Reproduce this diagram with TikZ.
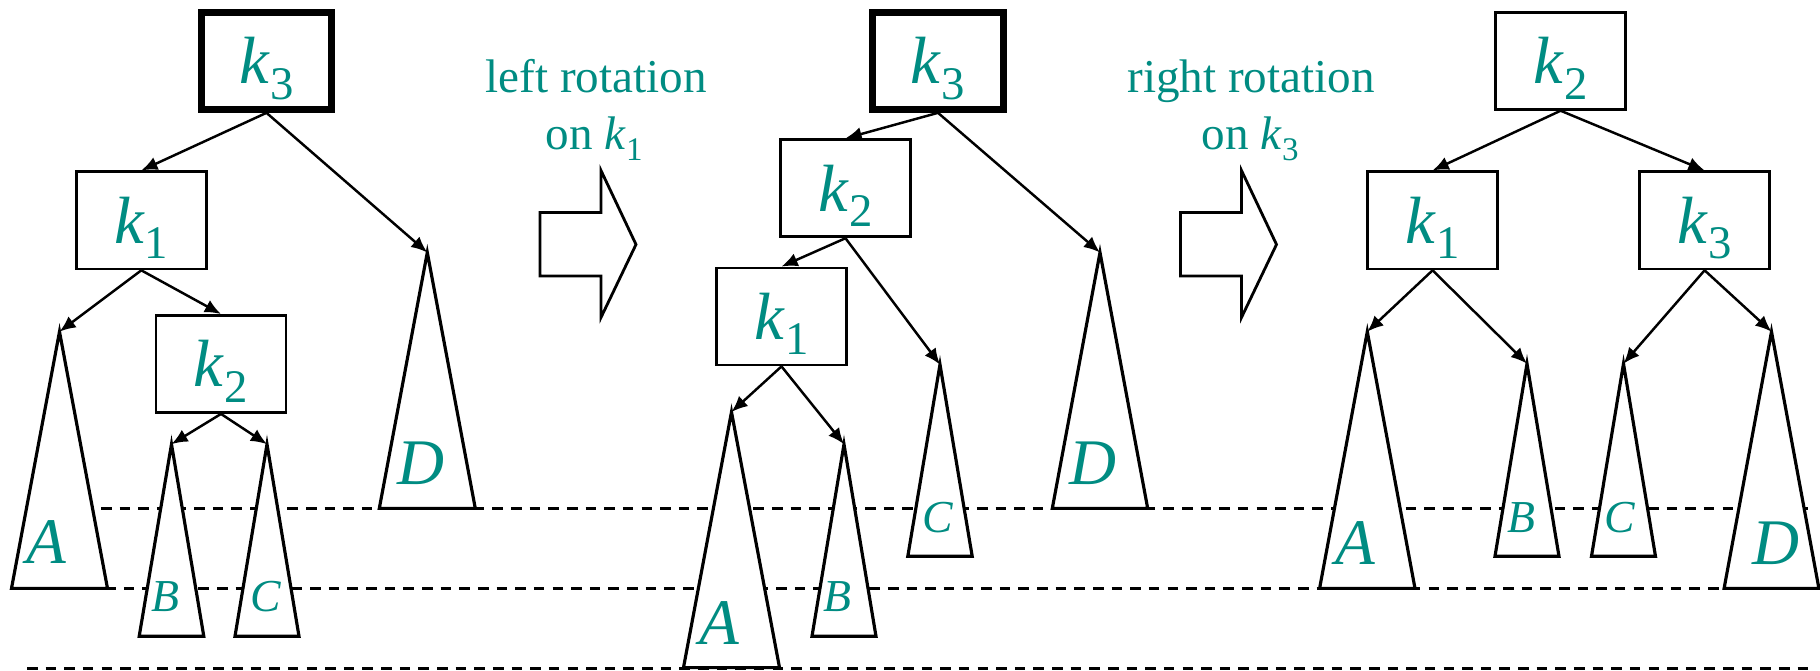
\documentclass[tikz,border=0pt]{standalone}
\usepackage{fontspec}
\setmainfont{Liberation Serif}
\usepackage{graphicx}
\usetikzlibrary{arrows.meta}
\definecolor{keyteal}{RGB}{0,140,130}
\newcommand{\kkey}[1]{\textit{k}\raisebox{-0.23em}{\scalebox{0.7}{#1}}}
% name, apex x, apex y, half base, base y
\newcommand{\subtree}[5]{%
  \coordinate (#1) at (#2,#3);
  \draw[subtri] (#1) -- ({#2-#4},#5) -- ({#2+#4},#5) -- cycle;}
\tikzset{
  keybox/.style={draw, line width=0.8pt, minimum width=1.3cm, minimum height=0.97cm,
    inner sep=0pt, text height=13pt, text depth=0pt, text=keyteal,
    font=\fontsize{19pt}{19pt}\selectfont},
  rootbox/.style={keybox, line width=2pt},
  subtri/.style={draw, fill=white, line width=0.9pt, line join=miter},
  treeedge/.style={-{Latex[length=4.6pt,width=3.9pt]}, line width=0.7pt},
  levelline/.style={dash pattern=on 3pt off 2.3pt, line width=0.85pt},
  biglabel/.style={text=keyteal, inner sep=0pt, font=\fontsize{18.5pt}{18.5pt}\selectfont\itshape},
  smalllabel/.style={text=keyteal, inner sep=0pt, font=\fontsize{13pt}{13pt}\selectfont\itshape},
  rotlabel/.style={text=keyteal, anchor=base, inner sep=0pt, font=\fontsize{13.4pt}{13.4pt}\selectfont},
  bigarrow/.style={draw, line width=0.8pt, line join=miter}
}
\begin{document}
\begin{tikzpicture}[x=0.01cm, y=-0.01cm]
  \useasboundingbox (0,0) rectangle (1820,671);
  % levels
  \draw[levelline] (101,508.4) -- (1813,508.4);
  \draw[levelline] (12,588.4) -- (1818,588.4);
  \draw[levelline] (27,668.3) -- (1813,668.3);

  % before
  \node[rootbox] (k3a) at (266.5,60.8) {\kkey{3}};
  \node[keybox] (k1a) at (141.3,220.4) {\kkey{1}};
  \node[keybox] (k2a) at (221,364) {\kkey{2}};
  \subtree{A1}{59.5}{331.7}{48}{588.4}
  \subtree{B1}{171.5}{444.2}{32.3}{636.3}
  \subtree{C1}{267}{444.2}{32}{636.3}
  \subtree{D1}{427.3}{252.5}{48}{508.4}
  \node[biglabel] (labA1) at (46.7,542.5) {A};
  \node[smalllabel] (labB1) at (165,597) {B};
  \node[smalllabel] (labC1) at (265.6,597) {C};
  \node[biglabel] (labD1) at (421,463.5) {D};
  \draw[treeedge] (k3a.south) -- (k1a.north);
  \draw[treeedge] (k3a.south) -- (D1);
  \draw[treeedge] (k1a.south) -- (A1);
  \draw[treeedge] (k1a.south) -- (k2a.north);
  \draw[treeedge] (k2a.south) -- (B1);
  \draw[treeedge] (k2a.south) -- (C1);

  \node[rotlabel] (rotL) at (596,93) {left rotation};
  \node[rotlabel] (rotLk) at (594,150) {on \kkey{1}};
  \draw[bigarrow] (540,212.5) -- (601,212.5) -- (601,170.5) -- (636,244.5)
    -- (601,317.5) -- (601,276) -- (540,276) -- cycle;

  % after left rotation
  \node[rootbox] (k3b) at (938,60.8) {\kkey{3}};
  \node[keybox] (k2b) at (845.5,188.3) {\kkey{2}};
  \node[keybox] (k1b) at (781.5,316.5) {\kkey{1}};
  \subtree{A2}{731.5}{412}{48}{667.6}
  \subtree{B2}{844}{444.2}{32}{636.3}
  \subtree{C2}{940}{364.6}{32.2}{556.3}
  \subtree{D2}{1100}{252.5}{47.7}{508.4}
  \node[biglabel] (labA2) at (719,622.6) {A};
  \node[smalllabel] (labB2) at (837.8,597) {B};
  \node[smalllabel] (labC2) at (937.9,517.8) {C};
  \node[biglabel] (labD2) at (1092.9,463.5) {D};
  \draw[treeedge] (k3b.south) -- (k2b.north);
  \draw[treeedge] (k3b.south) -- (D2);
  \draw[treeedge] (k2b.south) -- (k1b.north);
  \draw[treeedge] (k2b.south) -- (C2);
  \draw[treeedge] (k1b.south) -- (A2);
  \draw[treeedge] (k1b.south) -- (B2);

  \node[rotlabel] (rotR) at (1251,93) {right rotation};
  \node[rotlabel] (rotRk) at (1250,150) {on \kkey{3}};
  \draw[bigarrow] (1180.5,212.5) -- (1241.5,212.5) -- (1241.5,170.5) -- (1276.5,244.5)
    -- (1241.5,317.5) -- (1241.5,276) -- (1180.5,276) -- cycle;

  % after right rotation
  \node[keybox] (k2c) at (1560.6,60.8) {\kkey{2}};
  \node[keybox] (k1c) at (1432.6,220.4) {\kkey{1}};
  \node[keybox] (k3c) at (1704.6,220.4) {\kkey{3}};
  \subtree{A3}{1367.3}{331.7}{47.7}{588.4}
  \subtree{B3}{1527}{363.7}{32}{556.3}
  \subtree{C3}{1623.5}{363.7}{32}{556.3}
  \subtree{D3}{1771.5}{331.7}{47.4}{588.4}
  \node[biglabel] (labA3) at (1355,543.5) {A};
  \node[smalllabel] (labB3) at (1521.7,517.8) {B};
  \node[smalllabel] (labC3) at (1620,517.8) {C};
  \node[biglabel] (labD3) at (1776,543.5) {D};
  \draw[treeedge] (k2c.south) -- (k1c.north);
  \draw[treeedge] (k2c.south) -- (k3c.north);
  \draw[treeedge] (k1c.south) -- (A3);
  \draw[treeedge] (k1c.south) -- (B3);
  \draw[treeedge] (k3c.south) -- (C3);
  \draw[treeedge] (k3c.south) -- (D3);
\end{tikzpicture}
\end{document}
